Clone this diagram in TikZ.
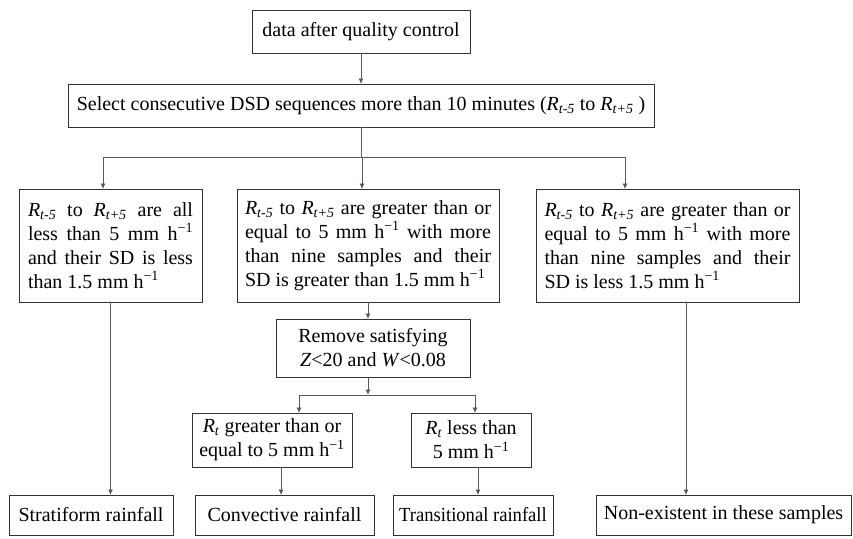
\documentclass[tikz,border=0pt]{standalone}
\usepackage{fontspec}
\usepackage{graphicx}
\setmainfont{Liberation Serif}
\usetikzlibrary{arrows.meta,calc}

% italic R with italic subscript, and the unit "h^-1"
\newcommand{\Rsub}[1]{\textit{R}\textsubscript{\textit{#1}}}
\newcommand{\perhour}{h\textsuperscript{\char"2212 1}}
% one justified line of a given width
\newcommand{\jline}[2]{\makebox[#1][s]{#2}}

\begin{document}
\begin{tikzpicture}[x=1pt,y=-1pt,
  box/.style={draw=black!80,line width=0.9pt,inner sep=0pt,outer sep=0pt,
    font=\fontsize{20}{24}\selectfont},
  link/.style={draw=black!65,line width=0.8pt},
  arr/.style={link,-{Latex[length=5.5pt,width=5pt]}}]

\useasboundingbox[fill=white] (0,0) rectangle (853,538);

% boxes
\node[box,minimum width=218pt,minimum height=43pt] (b1) at (361,31.5) {data after quality control};
\node[box,minimum width=586pt,minimum height=43pt] (b2) at (361,105.5)
  {Select consecutive DSD sequences more than 10 minutes (\Rsub{t-5} to \Rsub{t+5} )};

\node[box,minimum width=183pt,minimum height=113pt,align=left] (L) at (110.5,245.5)
  {\jline{165pt}{\Rsub{t-5} to \Rsub{t+5} are all}\\
   \jline{165pt}{less than 5 mm \perhour}\\
   \jline{165pt}{and their SD is less}\\
   \makebox[165pt][l]{than 1.5 mm \perhour}};

\node[box,minimum width=262pt,minimum height=113pt,align=left] (M) at (368,245.5)
  {\jline{246pt}{\Rsub{t-5} to \Rsub{t+5} are greater than or}\\
   \jline{246pt}{equal to 5 mm \perhour{} with more}\\
   \jline{246pt}{than nine samples and their}\\
   \makebox[246pt][l]{SD is greater than 1.5 mm \perhour}};

\node[box,minimum width=263pt,minimum height=113pt,align=left] (R) at (667.5,245.5)
  {\jline{246pt}{\Rsub{t-5} to \Rsub{t+5} are greater than or}\\
   \jline{246pt}{equal to 5 mm \perhour{} with more}\\
   \jline{246pt}{than nine samples and their}\\
   \makebox[246pt][l]{SD is less 1.5 mm \perhour}};

\node[box,minimum width=194pt,minimum height=58pt,align=center] (Rem) at (373,348)
  {Remove satisfying\\ \textit{Z}<20 and \textit{W}<0.08};

\node[box,minimum width=160pt,minimum height=54pt,align=center] (G) at (272,440)
  {\Rsub{t} greater than or\\ equal to 5 mm \perhour};
\node[box,minimum width=120pt,minimum height=54pt,align=center] (Ls) at (471,440)
  {\Rsub{t} less than\\ 5 mm \perhour};

\node[box,minimum width=164pt,minimum height=40pt] (S) at (91,515) {Stratiform rainfall};
\node[box,minimum width=179pt,minimum height=40pt] (C) at (284.5,515) {Convective rainfall};
\node[box,minimum width=160pt,minimum height=40pt] (T) at (473,515) {\scalebox{0.93}[1]{Transitional rainfall}};
\node[box,minimum width=255pt,minimum height=40pt] (N) at (723.5,515) {Non-existent in these samples};

% junction points of the branching connectors
\coordinate (j1) at (362,157);
\coordinate (jL) at (103,157);
\coordinate (jR) at (625,157);
\coordinate (j2) at (368,395);
\coordinate (j2L) at (299,395);
\coordinate (j2R) at (475,395);

% connectors
\draw[arr] (b1.south) -- (b1.south |- b2.north);
\draw[link] (b2.south) -- (b2.south |- j1);
\draw[link] (jL) -- (jR);
\draw[arr] (jL) -- (jL |- L.north);
\draw[arr] (j1) -- (j1 |- M.north);
\draw[arr] (jR) -- (jR |- R.north);

\draw[arr] (L.south) -- (L.south |- S.north);
\draw[arr] (M.south) -- (M.south |- Rem.north);
\draw[arr] ([xshift=18.5pt]R.south) -- ([xshift=18.5pt]R.south |- N.north);

\draw[arr] (Rem.south -| j2) -- (j2);
\draw[link] (j2L) -- (j2R);
\draw[arr] (j2L) -- (j2L |- G.north);
\draw[arr] (j2R) -- (j2R |- Ls.north);

\draw[arr] ([xshift=9pt]G.south) -- ([xshift=9pt]G.south |- C.north);
\draw[arr] ([xshift=7pt]Ls.south) -- ([xshift=7pt]Ls.south |- T.north);
\end{tikzpicture}
\end{document}
